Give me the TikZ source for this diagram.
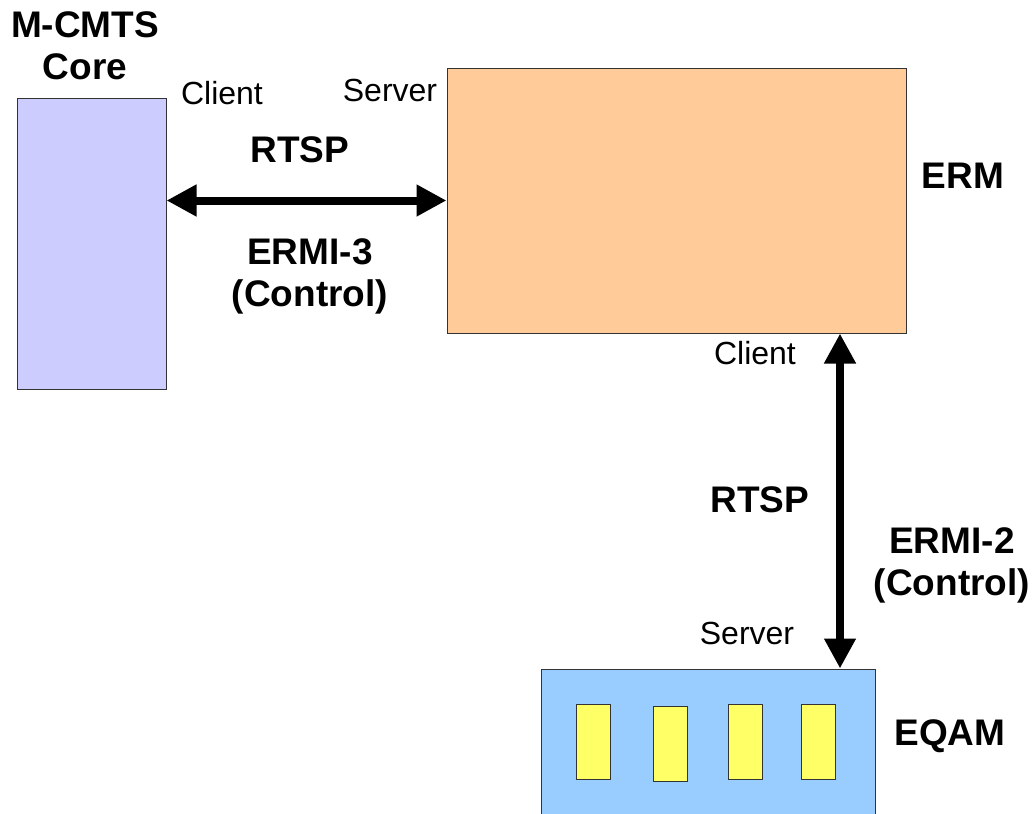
\documentclass[tikz,border=0pt]{standalone}
\usepackage{fontspec}
\setmainfont{Liberation Sans}
\usetikzlibrary{arrows.meta}

\definecolor{corefill}{HTML}{CCCCFF}
\definecolor{ermfill}{HTML}{FFCC99}
\definecolor{eqamfill}{HTML}{99CCFF}
\definecolor{slotfill}{HTML}{FFFF66}

\tikzset{
	box/.style={draw=black!80, line width=1pt, inner sep=0pt},
	slot/.style={box, fill=slotfill, minimum width=34pt, minimum height=75pt},
	lbl/.style={font=\fontsize{32}{38}\selectfont, inner sep=0pt},
	blbl/.style={font=\fontsize{37}{42}\selectfont\bfseries, align=center, inner sep=0pt},
	link/.style={line width=8pt, {Triangle[length=30pt,width=30pt]}-{Triangle[length=30pt,width=30pt]}},
}

\begin{document}
\begin{tikzpicture}[x=1pt, y=-1pt]
	\useasboundingbox (0,0) rectangle (1034,814);
	\clip (0,0) rectangle (1034,814);
%	boxes
	\node[box, fill=corefill, minimum width=149pt, minimum height=291pt] (core) at (91.5,243.5) {};
	\node[box, fill=ermfill, minimum width=459pt, minimum height=265pt] (erm) at (676.5,200.5) {};
	\node[box, fill=eqamfill, minimum width=334pt, minimum height=170pt] (eqam) at (708,754) {};
	\foreach \x/\y [count=\i] in {593/741.5, 670/744, 745/741.5, 818/741.5}
		\node[slot] (slot\i) at (\x,\y) {};
%	names
	\node[blbl] (corename) at (85,46) {M-CMTS\\Core};
	\node[blbl] (ermname) at (963,176) {ERM};
	\node[blbl] (eqamname) at (950,736) {EQAM};
%	ERMI-3
	\draw[link] (core.east |- erm.west) -- (erm.west);
	\node[lbl] (c3) at (222,93) {Client};
	\node[lbl] (s3) at (390,90) {Server};
	\node[blbl] (rtsp3) at (300,150) {RTSP};
	\node[blbl] (ermi3) at (310,276) {ERMI-3\\(Control)};
%	ERMI-2
	\coordinate (vx) at (840,0);
	\draw[link] (erm.south -| vx) -- (eqam.north -| vx);
	\node[lbl] (c2) at (755,353) {Client};
	\node[lbl] (s2) at (747,633) {Server};
	\node[blbl] (rtsp2) at (760,500) {RTSP};
	\node[blbl] (ermi2) at (952,565) {ERMI-2\\(Control)};
\end{tikzpicture}
\end{document}
